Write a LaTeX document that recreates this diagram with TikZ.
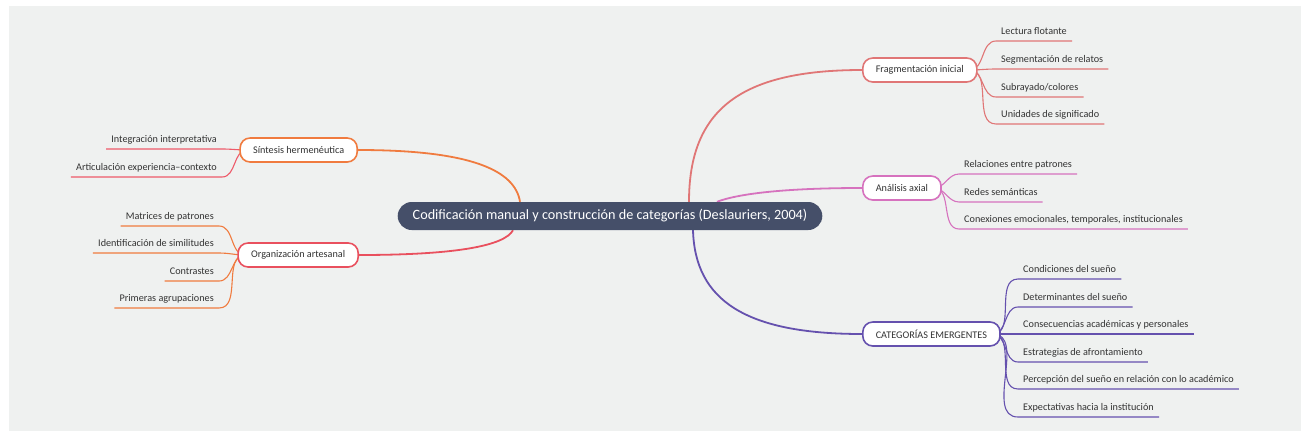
\documentclass[tikz,border=0pt]{standalone}
\usepackage{fontspec}
\setmainfont{Carlito}
\usetikzlibrary{backgrounds}
\definecolor{bgc}{HTML}{EFF1F0}
\definecolor{maincol}{HTML}{454F69}
\definecolor{txt}{HTML}{333333}
\definecolor{corange}{HTML}{F07B3F}
\definecolor{cred}{HTML}{E9505E}
\definecolor{cpinkred}{HTML}{EE5A6A}
\definecolor{csalmon}{HTML}{E07676}
\definecolor{cpink}{HTML}{D672BE}
\definecolor{cpurple}{HTML}{6551AE}
\tikzset{
  mainnode/.style={fill=maincol, text=white, rounded corners=14pt, minimum height=28pt, inner xsep=15pt, inner ysep=0pt, font=\fontsize{14.2}{16}\selectfont},
  topic/.style={draw=#1, fill=white, line width=1.6pt, rounded corners=10pt, minimum height=24pt, inner xsep=13pt, inner ysep=0pt, text=txt, font=\fontsize{10.2}{12}\selectfont},
  leaf/.style={inner xsep=5pt, inner ysep=6.5pt, text height=7pt, text depth=0pt, text=txt, font=\fontsize{10.2}{12}\selectfont},
  mainline/.style={draw=#1, line width=1.8pt},
  leafline/.style={draw=#1, line width=1.1pt},
}
\begin{document}
\begin{tikzpicture}[x=1pt,y=-1pt]
\useasboundingbox (0,0) rectangle (1301,437);
% main node
\node[mainnode] (main) at (610,216) {Codificación manual y construcción de categorías (Deslauriers, 2004)};
% topics
\node[topic=corange, anchor=east] (sint) at (358,150) {Síntesis hermenéutica};
\node[topic=cred, anchor=east] (org) at (359,255) {Organización artesanal};
\node[topic=csalmon, anchor=west] (frag) at (862,70) {Fragmentación inicial};
\node[topic=cpink, anchor=west] (anal) at (862,188) {Análisis axial};
\node[topic=cpurple, anchor=west] (cat) at (862,334) {CATEGORÍAS EMERGENTES};
% left leaves
\node[leaf, anchor=south east] (s1) at (222,149) {Integración interpretativa};
\node[leaf, anchor=south east] (s2) at (222,177) {Articulación experiencia–contexto};
\node[leaf, anchor=south east] (o1) at (219,226) {Matrices de patrones};
\node[leaf, anchor=south east] (o2) at (219,253) {Identificación de similitudes};
\node[leaf, anchor=south east] (o3) at (219,281) {Contrastes};
\node[leaf, anchor=south east] (o4) at (219,308) {Primeras agrupaciones};
% right leaves
\node[leaf, anchor=south west] (f1) at (996,41) {Lectura flotante};
\node[leaf, anchor=south west] (f2) at (996,69) {Segmentación de relatos};
\node[leaf, anchor=south west] (f3) at (996,97) {Subrayado/colores};
\node[leaf, anchor=south west] (f4) at (996,124) {Unidades de significado};
\node[leaf, anchor=south west] (a1) at (959,174) {Relaciones entre patrones};
\node[leaf, anchor=south west] (a2) at (959,202) {Redes semánticas};
\node[leaf, anchor=south west] (a3) at (959,229) {Conexiones emocionales, temporales, institucionales};
\node[leaf, anchor=south west] (c1) at (1018,279) {Condiciones del sueño};
\node[leaf, anchor=south west] (c2) at (1018,307) {Determinantes del sueño};
\node[leaf, anchor=south west] (c3) at (1018,334) {Consecuencias académicas y personales};
\node[leaf, anchor=south west] (c4) at (1018,362) {Estrategias de afrontamiento};
\node[leaf, anchor=south west] (c5) at (1018,389) {Percepción del sueño en relación con lo académico};
\node[leaf, anchor=south west] (c6) at (1018,417) {Expectativas hacia la institución};
\begin{scope}[on background layer]
\fill[bgc] (9,6) rectangle (1301,431);
% main connectors
\draw[mainline=corange] (sint.east) .. controls (470,150) and (515,170) .. ([xshift=-90pt]main.north);
\draw[mainline=cred] (org.east) .. controls (460,255) and (505,245) .. ([xshift=-97pt]main.south);
\draw[mainline=csalmon] ([xshift=79pt]main.north) .. controls (689,110) and (740,70) .. (frag.west);
\draw[mainline=cpink] ([xshift=107pt]main.north) .. controls (740,193) and (790,188) .. (anal.west);
\draw[mainline=cpurple] ([xshift=83pt]main.south) .. controls (695,300) and (745,334) .. (cat.west);
% left leaf lines
\foreach \l in {s1,s2} {
  \draw[leafline=cpinkred] ([xshift=8pt]sint.west) to[out=180,in=0] (\l.south east) -- (\l.south west);
}
\foreach \l in {o1,o2,o3,o4} {
  \draw[leafline=corange] ([xshift=8pt]org.west) to[out=180,in=0] (\l.south east) -- (\l.south west);
}
% right leaf lines
\foreach \l in {f1,f2,f3,f4} {
  \draw[leafline=csalmon] ([xshift=-8pt]frag.east) to[out=0,in=180] (\l.south west) -- (\l.south east);
}
\foreach \l in {a1,a2,a3} {
  \draw[leafline=cpink] ([xshift=-8pt]anal.east) to[out=0,in=180] (\l.south west) -- (\l.south east);
}
\foreach \l in {c1,c2,c3,c4,c5,c6} {
  \draw[leafline=cpurple] ([xshift=-8pt]cat.east) to[out=0,in=180] (\l.south west) -- (\l.south east);
}
\end{scope}
\end{tikzpicture}
\end{document}
